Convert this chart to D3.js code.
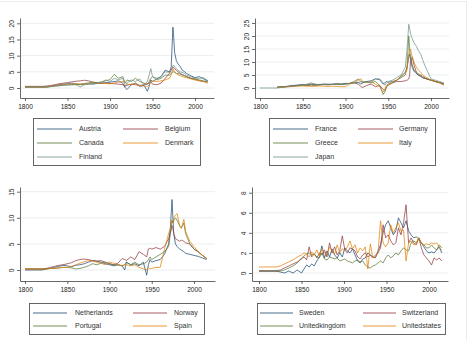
<!DOCTYPE html>
<html><head><meta charset="utf-8">
<script src="https://cdn.jsdelivr.net/npm/d3@7"></script>
<style>
html,body{margin:0;padding:0;background:#fff;}
svg{display:block;font-family:"Liberation Sans",Arial,sans-serif;}
</style></head>
<body>
<svg id="c" width="470" height="341"></svg>
<script>
// ---------- data ----------
const yearsA = [1800,1810,1820,1825,1830,1835,1840,1845,1850,1855,1860,1865,1870,1875,1880,1885,1890,1895,1900,1905,1910,1915,1918,1920,1925,1930,1935,1940,1944,1946,1948,1950,1955,1960,1965,1970,1972,1974,1975,1976,1978,1980,1983,1985,1988,1990,1995,2000,2005,2010,2015];
const yearsB = [1800,1810,1820,1825,1830,1835,1840,1845,1850,1853,1856,1859,1862,1865,1868,1871,1874,1877,1880,1883,1886,1889,1892,1895,1898,1901,1904,1907,1910,1913,1916,1919,1922,1925,1928,1931,1934,1937,1940,1943,1946,1949,1952,1955,1958,1961,1964,1967,1970,1973,1976,1979,1982,1985,1988,1991,1994,1997,2000,2003,2006,2009,2012,2015];

const austria = [0.3,0.3,0.3,0.3,0.5,0.8,1.0,1.2,1.3,1.5, 1.2,1.0,1.2,1.3,1.2,1.4,1.5,1.6,1.8,2.0, 2.2,1.5,0.0,-0.5,1.0,1.5,0.5,0.8,-1.0,0.5, 2.5,2.0,2.8,3.5,5.5,5.0,6.5,18.8,15.5,11.0, 8.5,7.5,6.5,5.5,5.0,4.5,3.8,3.2,3.5,2.8, 2.2];
const belgium = [0.5,0.5,0.5,0.6,0.8,1.0,1.3,1.5,1.7,1.9, 2.1,2.2,2.4,2.2,1.8,1.6,1.5,1.5,1.4,1.3, 1.2,1.0,0.6,0.8,1.2,1.0,0.8,1.0,1.2,1.5, 2.0,1.2,1.0,1.5,3.0,4.5,5.5,6.5,6.2,6.0, 5.5,5.0,4.5,4.2,3.8,3.5,3.0,2.6,2.3,2.0, 1.8];
const canada = [0.3,0.3,0.3,0.3,0.4,0.6,0.7,0.9,1.0,1.0, 1.1,1.2,1.4,1.6,1.8,1.6,1.9,2.2,2.6,4.2, 3.0,3.5,1.5,2.5,2.0,3.0,2.0,1.5,1.2,2.0, 3.0,3.5,2.5,3.0,4.0,4.0,4.5,5.0,5.0,4.8, 4.5,4.5,4.2,4.0,3.7,3.5,3.0,2.8,2.5,2.2, 2.0];
const denmark = [0.3,0.3,0.3,0.3,0.5,0.7,0.9,1.0,1.1,1.2, 1.3,1.2,1.2,1.3,1.4,1.4,1.5,1.4,1.3,1.6, 1.8,2.0,1.8,1.2,1.0,1.5,0.8,0.6,0.5,1.0, 2.0,2.2,2.0,2.2,2.5,3.0,4.0,6.0,5.5,5.0, 4.5,4.0,3.8,3.5,3.3,3.2,2.8,2.5,2.2,2.0, 1.5];
const finland = [0.3,0.3,0.3,0.3,0.5,0.6,0.7,0.8,0.9,1.0, 1.0,0.3,1.0,1.2,1.4,1.5,1.8,2.5,2.0,3.0, 2.5,3.0,0.5,1.5,2.5,2.0,2.8,1.0,2.0,4.0, 6.0,3.5,3.0,3.5,5.0,4.8,5.5,7.0,7.0,6.5, 6.0,5.5,5.0,4.8,4.5,4.0,3.5,3.0,3.0,3.2, 2.3];

const france = [null,null,0.3,0.5,0.6,0.8,1.0,1.2,1.3,1.2, 1.5,1.3,1.4,1.5,1.4,1.5,1.6,1.5,1.8,1.7, 2.0,2.2,1.5,2.0,2.5,2.8,3.5,3.2,1.5,2.0, 2.5,2.2,2.5,3.0,4.5,6.0,8.0,12.0,13.0,11.0, 8.0,6.5,5.5,5.0,4.5,4.0,3.5,3.0,2.5,2.0, 1.5];
const germany = [null,null,0.3,0.4,0.5,0.7,0.9,1.0,1.1,1.0, 1.2,1.1,1.3,1.4,1.3,1.4,1.5,1.4,1.6,1.8, 2.0,1.5,0.5,0.2,1.0,1.5,0.5,1.0,-0.5,-1.0, 0.5,1.5,2.0,2.5,2.5,2.8,3.0,3.5,5.0,10.0, 12.0,9.0,6.0,5.0,4.5,4.0,3.5,3.0,2.5,2.2, 1.5];
const greece = [null,null,0.3,0.4,0.5,0.6,0.8,0.9,1.0,1.1, 1.2,1.0,1.2,1.3,1.2,1.4,1.5,1.3,1.5,1.8, 2.5,3.5,2.5,2.0,2.5,2.0,2.5,1.0,-2.5,-1.5, 0.5,1.0,2.0,3.0,4.0,5.0,8.0,20.0,15.0,12.0, 9.0,7.0,6.0,5.5,5.0,4.5,3.5,3.0,2.5,2.0, 1.5];
const italy = [null,null,0.2,0.3,0.4,0.5,0.6,0.7,0.8,0.7, 0.6,0.7,0.8,0.7,0.6,0.7,0.6,0.5,0.5,1.5, 2.0,3.0,3.5,2.5,2.0,2.5,1.5,0.5,-1.5,-0.5, 1.0,1.5,2.0,3.0,4.5,6.0,7.0,13.0,14.0,15.0, 12.0,10.0,8.0,7.0,6.0,5.0,4.0,3.0,2.5,2.0, 1.0];
const japan = [0,0,0,0.2,0.4,0.6,0.8,1.0,1.2,1.5, 2.0,1.5,1.2,1.4,1.5,1.3,1.6,1.5,1.5,1.8, 2.0,2.0,2.5,2.5,2.2,2.0,3.5,3.5,2.0,1.0, 2.0,2.5,3.0,4.0,5.0,8.0,15.0,24.5,23.0,21.0, 19.0,17.5,16.0,14.5,13.0,11.0,7.0,3.5,3.0,2.5, 2.0];

const netherlands = [0,0,0,0.2,0.3,0.5,0.7,0.9,0.8,0.6, 0.9,1.0,1.2,1.5,1.8,1.7,1.5,1.2,1.0,0.8, 1.0,0.8,0.0,1.5,1.0,1.2,0.8,1.5,-1.0,1.0, 2.0,1.5,1.8,2.0,3.0,5.0,8.0,13.5,10.0,7.0, 5.0,4.5,4.0,3.8,3.5,3.2,3.0,2.8,2.6,2.3, 2.0];
const norway = [0.2,0.2,0.2,0.3,0.5,0.7,0.9,1.0,1.2,1.4, 1.8,2.0,2.1,2.0,1.8,1.7,1.8,1.5,1.2,1.0, 1.3,2.2,2.0,1.8,2.5,2.0,3.5,3.0,2.5,4.0, 4.2,4.0,4.3,4.0,4.5,6.0,7.0,8.5,8.0,7.0, 6.0,5.8,5.5,5.7,5.5,5.2,5.0,4.0,3.5,2.8, 2.2];
const portugal = [0.2,0.2,0.2,0.2,0.3,0.3,0.4,0.5,0.5,0.4, 0.2,0.3,0.5,0.8,1.2,1.0,1.3,1.5,1.2,1.0, 1.0,0.8,1.0,1.5,1.0,1.5,1.0,1.2,1.5,2.0, 2.5,2.0,2.5,3.0,3.5,4.5,7.0,9.5,9.0,9.5, 10.0,9.5,8.5,8.0,9.0,7.0,5.0,4.0,3.5,2.8, 2.2];
const spain = [0.2,0.2,0.2,0.2,0.3,0.3,0.4,0.5,0.5,0.7, 1.0,1.3,1.6,1.8,1.7,1.5,1.3,1.0,1.5,1.3, 1.0,0.8,1.0,1.0,0.8,1.0,0.5,0.2,0.0,0.5, 0.2,0.3,0.5,0.5,4.0,7.0,8.0,9.5,9.0,10.0, 10.5,10.8,8.5,8.0,9.7,7.5,5.5,4.5,3.5,2.8, 2.2];

const sweden = [0.2,0.2,0.2,0.1,0.0,0.2,0.0,0.3, 0.0,0.4,0.8,0.6,0.9,0.7,1.2,1.6,2.7,1.5, 2.2,1.6,2.4,1.8,1.5,2.0,1.6,2.5,2.2,2.0, 2.4,1.8,1.2,1.0,1.4,1.5,2.0,1.8,1.6,1.5, 2.2,2.8,4.0,4.8,5.2,4.5,3.8,4.2,5.5,5.0, 4.5,5.2,4.2,3.8,3.5,3.6,3.4,3.0,2.6,2.2, 2.0,2.1,2.0,2.3,2.6,2.0];
const switzerland = [0.2,0.2,0.2,0.3,0.5,0.7,0.9,1.1, 1.4,1.6,1.3,2.6,1.6,1.9,1.5,2.0,1.8,2.3, 1.6,3.0,2.0,2.6,1.8,2.2,3.7,2.3,2.0,2.5, 2.4,2.2,1.6,1.4,1.8,2.0,1.6,1.8,1.5,1.8, 2.0,2.5,4.8,3.5,3.8,3.2,2.8,3.0,4.5,3.8, 5.0,6.8,3.0,3.5,3.0,2.8,3.5,2.5,1.8,1.5, 1.2,0.8,1.5,1.3,1.5,1.2];
const unitedkingdom = [0.2,0.2,0.2,0.2,0.3,0.5,0.7,1.0, 1.5,1.7,1.9,2.0,1.8,1.9,1.6,1.5,2.0,1.4, 1.3,1.6,1.5,1.4,1.5,1.2,1.3,1.4,1.2,1.1, 1.0,1.2,1.3,1.1,1.2,0.8,0.6,0.5,0.7,0.8, 1.0,1.2,1.0,1.5,1.8,1.5,1.7,2.0,1.8,2.2, 2.5,2.3,2.2,3.0,3.2,3.0,3.5,3.0,2.8,2.5, 2.5,2.8,2.5,2.3,2.8,2.5];
const unitedstates = [0.6,0.6,0.6,0.7,0.9,1.1,1.3,1.6, 1.8,2.0,1.9,1.6,2.1,1.8,2.3,1.7,2.4,2.0, 1.8,2.6,2.2,1.9,2.8,2.0,2.4,2.2,2.6,3.2, 2.4,2.8,2.0,2.5,2.2,2.6,0.4,2.9,1.5,1.6, 2.0,5.2,3.0,2.6,3.0,4.8,4.0,4.5,5.0,4.2, 4.3,1.2,3.0,3.2,2.8,2.9,3.5,3.0,2.8,2.9, 2.8,3.0,2.9,3.0,2.6,2.3];

const xTicks = [1800,1850,1900,1950,2000];
const yTicks1 = [0,5,10,15,20];
const yTicks2 = [0,5,10,15,20,25];
const yTicks3 = [0,5,10,15];
const yTicks4 = [0,2,4,6,8];

const names1 = ["Austria","Belgium","Canada","Denmark","Finland"];
const names2 = ["France","Germany","Greece","Italy","Japan"];
const names3 = ["Netherlands","Norway","Portugal","Spain"];
const names4 = ["Sweden","Switzerland","Unitedkingdom","Unitedstates"];

const colors = ["#1a476f","#90353b","#55752f","#e37e00","#6e8e84"];

// ---------- layout ----------
const panels = [
  {names:names1, series:[austria,belgium,canada,denmark,finland], years:yearsA, yTicks:yTicks1,
   axX:20, right:214, top:18, bottom:98, x0:25, x1:195, yv0:0, yp0:88, yv1:20, yp1:23.3,
   leg:{x:33,y:118,w:167,h:47, c1:37, t1:79, c2:123, t2:165, rows:[129,143,157], len:35}},
  {names:names2, series:[france,germany,greece,italy,japan], years:yearsA, yTicks:yTicks2,
   axX:255, right:449, top:18, bottom:98, x0:260, x1:431, yv0:0, yp0:88, yv1:25, yp1:23,
   leg:{x:269,y:118,w:166,h:47, c1:273, t1:315, c2:358, t2:399, rows:[129,143,157], len:35}},
  {names:names3, series:[netherlands,norway,portugal,spain], years:yearsA, yTicks:yTicks3,
   axX:20, right:215, top:187, bottom:281, x0:25, x1:194, yv0:0, yp0:270, yv1:15, yp1:191.7,
   leg:{x:29,y:303,w:175,h:31, c1:33, t1:75, c2:133, t2:174, rows:[313,326], len:34}},
  {names:names4, series:[sweden,switzerland,unitedkingdom,unitedstates], years:yearsB, yTicks:yTicks4,
   axX:252, right:448, top:187, bottom:281, x0:259, x1:429, yv0:0, yp0:273, yv1:8, yp1:192.7,
   leg:{x:257,y:303,w:188,h:31, c1:260, t1:299, c2:363, t2:402, rows:[313,326], len:33}}
];

const svg = d3.select("#c");
svg.append("rect").attr("width",470).attr("height",341).attr("fill","#fff");
// faint outer frame lines
svg.append("line").attr("x1",0).attr("x2",466.5).attr("y1",1.5).attr("y2",1.5).attr("stroke","#ececec");
svg.append("line").attr("x1",466.5).attr("x2",466.5).attr("y1",1.5).attr("y2",341).attr("stroke","#ececec");

panels.forEach(p => {
  const g = svg.append("g");
  // x scale: linear map through reference anchors
  const pxPerYr = (p.x1 - p.x0) / 200;
  const x = d3.scaleLinear()
    .domain([1800 - (p.x0 - p.axX)/pxPerYr, 2000 + (p.right - p.x1)/pxPerYr])
    .range([p.axX, p.right]);
  const pxPerUnit = (p.yp0 - p.yp1) / (p.yv1 - p.yv0);
  const y = d3.scaleLinear()
    .domain([p.yv0 - (p.bottom - p.yp0)/pxPerUnit, p.yv0 + (p.yp0 - p.top)/pxPerUnit])
    .range([p.bottom, p.top]);

  // grid
  g.append("g").selectAll("line").data(p.yTicks).join("line")
    .attr("x1", p.axX).attr("x2", p.right)
    .attr("y1", d => y(d)).attr("y2", d => y(d))
    .attr("stroke", "#e9eef0").attr("stroke-width", 1);

  // lines
  const line = d3.line().defined(d => d[1] != null).x(d => x(d[0])).y(d => y(d[1]));
  p.series.forEach((s, i) => {
    const pts = p.years.map((yr, k) => [yr, s[k]]);
    g.append("path").attr("d", line(pts)).attr("fill","none")
      .attr("stroke", colors[i]).attr("stroke-width", 0.8).attr("stroke-linejoin","round").attr("stroke-opacity",0.9);
  });

  // axes
  const xa = g.append("g").attr("transform", `translate(0,${p.bottom})`)
    .call(d3.axisBottom(x).tickValues(xTicks).tickSize(3).tickSizeOuter(0).tickFormat(d3.format("d")));
  xa.selectAll("text").attr("y", 6).attr("dy","0.71em").attr("font-size","6.6px").attr("fill","#222");
  const ya = g.append("g").attr("transform", `translate(${p.axX},0)`)
    .call(d3.axisLeft(y).tickValues(p.yTicks).tickSize(3).tickSizeOuter(0));
  ya.selectAll("text")
    .attr("x", null).attr("dy", null)
    .attr("text-anchor","middle")
    .attr("transform", "translate(-6,0) rotate(-90)")
    .attr("font-size","6.6px").attr("fill","#222");
  [xa, ya].forEach(a => {
    a.select(".domain").attr("stroke","#444").attr("stroke-width",0.8);
    a.selectAll(".tick line").attr("stroke","#444").attr("stroke-width",0.8);
  });

  // legend
  const L = p.leg;
  const lg = g.append("g");
  lg.append("rect").attr("x", L.x+0.5).attr("y", L.y+0.5).attr("width", L.w).attr("height", L.h)
    .attr("fill","#fff").attr("stroke","#555").attr("stroke-width",0.9);
  p.names.forEach((n, i) => {
    const col = i % 2, row = Math.floor(i / 2);
    const lx = col === 0 ? L.c1 : L.c2, tx = col === 0 ? L.t1 : L.t2, ry = L.rows[row];
    lg.append("line").attr("x1", lx).attr("x2", lx + L.len).attr("y1", ry).attr("y2", ry)
      .attr("stroke", colors[i]).attr("stroke-width", 0.8);
    lg.append("text").attr("x", tx).attr("y", ry).attr("dy","0.35em")
      .attr("font-size","7px").attr("fill","#333").text(n);
  });
});
</script>
</body></html>
